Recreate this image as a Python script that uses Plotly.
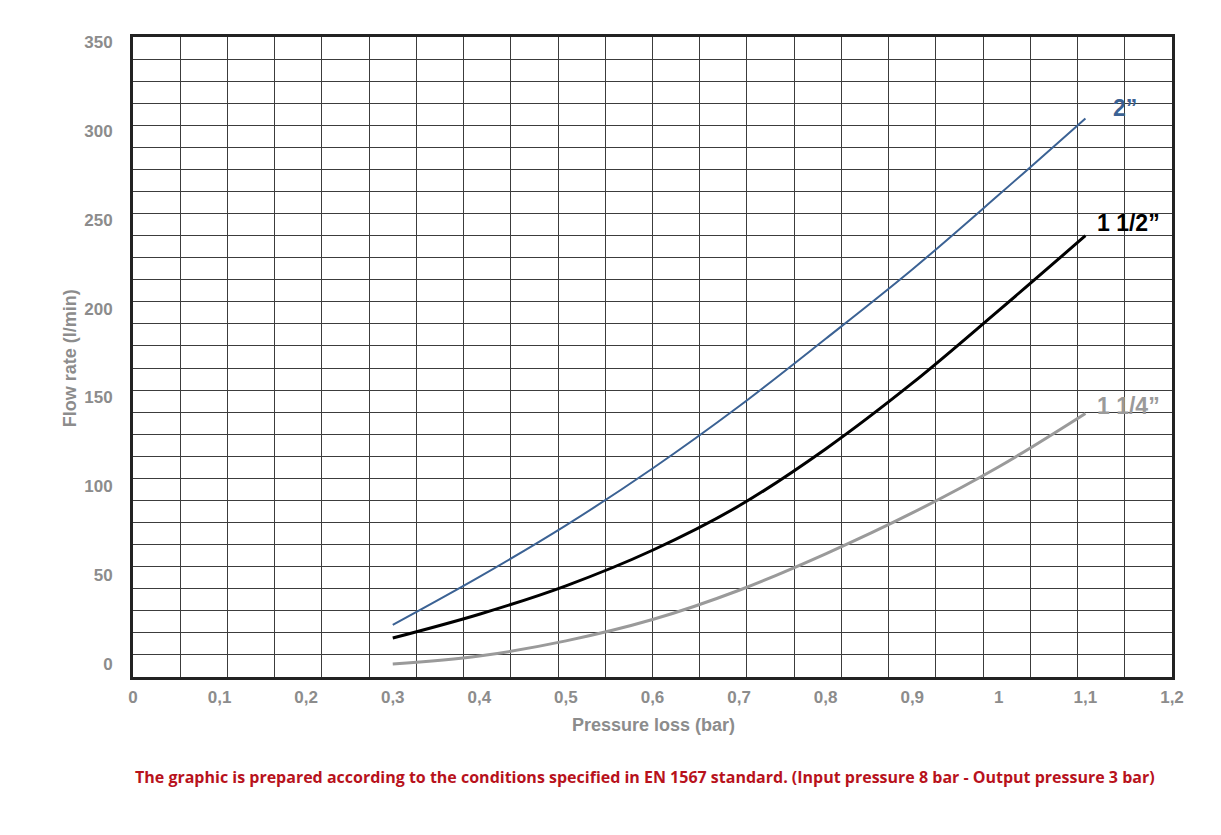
import plotly.graph_objects as go

# ---- data ----
pressure = [0.3, 0.4, 0.5, 0.6, 0.7, 0.8, 0.9, 1.0, 1.1]
flow_2 = [22, 49, 78, 110, 145, 183, 222, 264, 307]
flow_1_1_2 = [14.6, 28, 44, 64, 89, 121, 158, 199, 241]
flow_1_1_4 = [0, 4.5, 13, 25, 41.5, 62, 85, 111, 141]

series_names = ["2\u201d", "1 1/2\u201d", "1 1/4\u201d"]
series_values = [flow_2, flow_1_1_2, flow_1_1_4]
series_colors = ["#3b6294", "#000000", "#9a9a9a"]
series_widths = [2, 3, 3]

x_tickvals = [0, 0.1, 0.2, 0.3, 0.4, 0.5, 0.6, 0.7, 0.8, 0.9, 1.0, 1.1, 1.2]
x_ticktext = ["0", "0,1", "0,2", "0,3", "0,4", "0,5", "0,6", "0,7", "0,8", "0,9", "1", "1,1", "1,2"]
y_tickvals = [0, 50, 100, 150, 200, 250, 300, 350]

# label anchor positions (data coords) next to each curve end
label_x = [1.146, 1.150, 1.150]
label_y = [313, 248, 145]

FONT = "Liberation Sans, Arial, sans-serif"
GRAY = "#8c8c8c"

fig = go.Figure()

# invisible trace to register the grid-overlay axes
fig.add_trace(go.Scatter(x=[], y=[], xaxis="x2", yaxis="y2", showlegend=False,
                         hoverinfo="skip"))

for name, vals, col, w in zip(series_names, series_values, series_colors, series_widths):
    fig.add_trace(go.Scatter(x=pressure, y=vals, mode="lines", name=name,
                             line=dict(color=col, width=w, shape="spline", smoothing=1.0),
                             showlegend=False))

for name, lx, ly, col in zip(series_names, label_x, label_y, series_colors):
    fig.add_annotation(x=lx, y=ly, xref="x", yref="y", text=name, showarrow=False,
                       font=dict(family=FONT, size=23, color=col, weight="bold"),
                       xanchor="center", yanchor="middle")

fig.add_annotation(x=0.5005, y=-0.075, xref="paper", yref="paper",
                   text="Pressure loss (bar)", showarrow=False,
                   font=dict(family=FONT, size=18, color=GRAY, weight="bold"),
                   xanchor="center", yanchor="middle")
fig.add_annotation(x=-0.0606, y=0.498, xref="paper", yref="paper",
                   text="Flow rate (l/min)", textangle=-90, showarrow=False,
                   font=dict(family=FONT, size=18, color=GRAY, weight="bold"),
                   xanchor="center", yanchor="middle")
fig.add_annotation(x=0.493, y=-0.156, xref="paper", yref="paper",
                   text="The graphic is prepared according to the conditions specified in EN 1567 standard. (Input pressure 8 bar - Output pressure 3 bar)",
                   showarrow=False,
                   font=dict(family="Open Sans, sans-serif", size=16, color="#b8121c", weight="bold"),
                   xanchor="center", yanchor="middle")

tick_font = dict(family=FONT, size=17, color=GRAY, weight="bold")

fig.update_layout(
    width=1221, height=835,
    margin=dict(l=133, r=49, t=37, b=158),
    paper_bgcolor="white", plot_bgcolor="white",
    xaxis=dict(range=[0, 1.2], tickvals=x_tickvals, ticktext=x_ticktext,
               showgrid=False, zeroline=False, showline=True, linewidth=3,
               linecolor="#222222", mirror=True, ticks="", tickfont=tick_font,
               ticklabelstandoff=3),
    yaxis=dict(range=[-7.32, 352.8], tickvals=y_tickvals,
               showgrid=False, zeroline=False, showline=True, linewidth=3,
               linecolor="#222222", mirror=True, ticks="", tickfont=tick_font,
               ticklabelstandoff=14),
    xaxis2=dict(range=[0, 22], dtick=1, overlaying="x", anchor="y2", side="top",
                showgrid=True, gridcolor="#3c3c3c", gridwidth=1, zeroline=False,
                showticklabels=False, ticks="", showline=False),
    yaxis2=dict(range=[0, 29], dtick=1, overlaying="y", anchor="x2", side="right",
                showgrid=True, gridcolor="#3c3c3c", gridwidth=1, zeroline=False,
                showticklabels=False, ticks="", showline=False),
)

fig.write_html("out.html")
